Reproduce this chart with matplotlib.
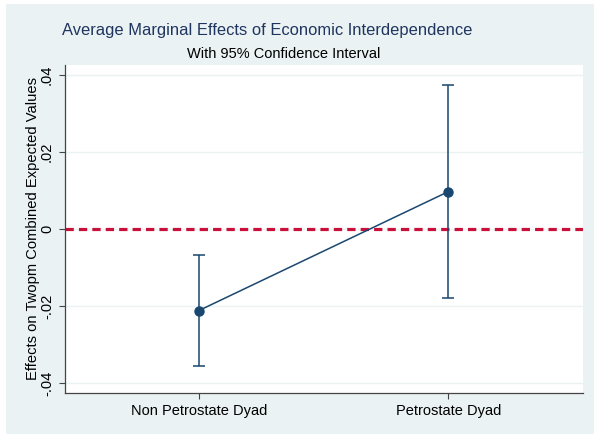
import matplotlib
matplotlib.use("Agg")
import matplotlib.pyplot as plt
from matplotlib.patches import Rectangle

plt.rcParams["font.family"] = ["Liberation Sans", "DejaVu Sans"]

# margins output: two dyad types, point estimate and 95% CI
groups = ["Non Petrostate Dyad", "Petrostate Dyad"]
effect = [-0.0212, 0.0097]
ci_low = [-0.0356, -0.0180]
ci_high = [-0.0068, 0.0374]
yticks = [-0.04, -0.02, 0.0, 0.02, 0.04]
ytick_labels = ["-.04", "-.02", "0", ".02", ".04"]

navy = "#1A476F"
bg = "#EAF2F3"
W, H = 594, 434

fig = plt.figure(figsize=(W / 100, H / 100), dpi=100, facecolor="white")
fig.patches.append(Rectangle((6 / W, 0), 1 - 6 / W, 1 - 4 / H,
                             transform=fig.transFigure, facecolor=bg,
                             edgecolor="none", zorder=-10))

ax = fig.add_axes([65 / W, 1 - 393 / H, (583 - 65) / W, (393 - 65) / H])
ax.set_facecolor("white")

x = list(range(len(groups)))
ax.axhline(0, color="#C8103A", lw=2.3, dashes=(2.6, 1.6), zorder=2)
ax.plot(x, effect, color=navy, lw=1.1, zorder=3)
ax.errorbar(x, effect,
            yerr=[[e - lo for e, lo in zip(effect, ci_low)],
                  [hi - e for e, hi in zip(effect, ci_high)]],
            fmt="o", color=navy, ms=6.5, elinewidth=1.1, capsize=4,
            capthick=1.1, zorder=4)

ax.set_xlim(-0.536, 1.54)
ax.set_ylim(-0.0426, 0.0426)
ax.set_xticks(x)
ax.set_xticklabels(groups, fontsize=10.5)
ax.set_yticks(yticks)
ax.set_yticklabels(ytick_labels, fontsize=10.5, rotation=90, va="center")
ax.grid(axis="y", color=bg, lw=1.0, zorder=0)
ax.set_axisbelow(True)
for side in ["top", "right"]:
    ax.spines[side].set_visible(False)
for side in ["left", "bottom"]:
    ax.spines[side].set_color("#444444")
    ax.spines[side].set_linewidth(0.9)
ax.tick_params(direction="out", length=4, width=0.8, color="#444444", pad=4)

ax.set_ylabel("Effects on Twopm Combined Expected Values", fontsize=10.6,
              labelpad=0)

fig.text(267 / W, 1 - 31 / H,
         "Average Marginal Effects of Economic Interdependence",
         ha="center", va="center", fontsize=11.9, color="#1F3560")
fig.text(284 / W, 1 - 54 / H, "With 95% Confidence Interval",
         ha="center", va="center", fontsize=10.5, color="black")

fig.savefig("out.png", dpi=100, facecolor=fig.get_facecolor())
